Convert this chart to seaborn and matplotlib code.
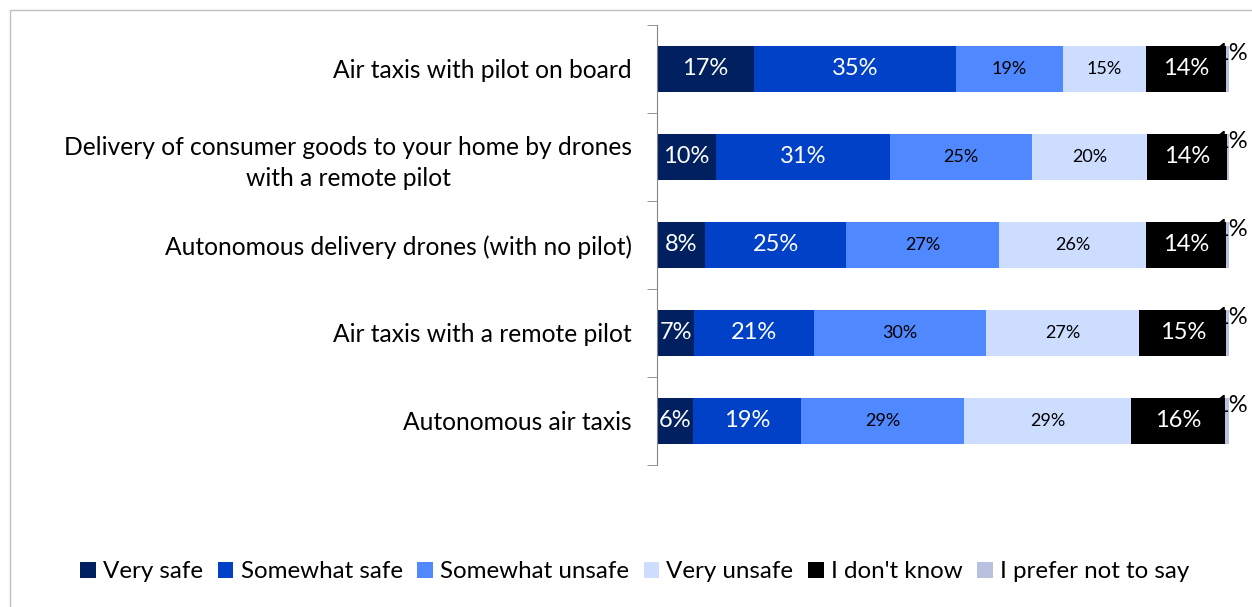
import numpy as np
import pandas as pd
import matplotlib.pyplot as plt
import seaborn as sns
from matplotlib.patches import Patch, Rectangle

# data (percent of respondents)
items = ['Air taxis with pilot on board',
         'Delivery of consumer goods to your home by drones\nwith a remote pilot',
         'Autonomous delivery drones (with no pilot)',
         'Air taxis with a remote pilot',
         'Autonomous air taxis']
answers = ['Very safe', 'Somewhat safe', 'Somewhat unsafe', 'Very unsafe',
           "I don't know", 'I prefer not to say']
very_safe = [16.9, 10.3, 8.4, 6.5, 6.3]
somewhat_safe = [35.4, 30.5, 24.7, 21.0, 18.9]
somewhat_unsafe = [18.6, 24.7, 26.7, 30.0, 28.5]
very_unsafe = [14.6, 20.1, 25.7, 26.8, 29.2]
dont_know = [14.0, 14.0, 14.0, 15.2, 16.4]
no_say = [0.5, 0.4, 0.5, 0.5, 0.7]
labels = [[17, 10, 8, 7, 6], [35, 31, 25, 21, 19], [19, 25, 27, 30, 29],
          [15, 20, 26, 27, 29], [14, 14, 14, 15, 16], [1, 1, 1, 1, 1]]

colors = ['#002060', '#0041C8', '#4F88FF', '#CCDDFF', '#000000', '#B8C2E0']
text_col = ['white', 'white', 'black', 'black', 'white', 'black']
text_size = [17, 17, 13, 13, 17, 17]

df = pd.DataFrame({'item': items})
series = [very_safe, somewhat_safe, somewhat_unsafe, very_unsafe, dont_know, no_say]
for a, s in zip(answers, series):
    df[a] = s
cum = df[answers].cumsum(axis=1)

plt.rcParams['font.family'] = ['Lato', 'DejaVu Sans']
fig = plt.figure(figsize=(12.52, 6.07), dpi=100)
ax = fig.add_axes([0.5248, 0.234, 0.457, 0.725])

# stacked bars: draw cumulative totals from the last answer backwards
for i in range(len(answers) - 1, -1, -1):
    sns.barplot(x=cum[answers[i]], y=df['item'], orient='h', color=colors[i],
                width=0.52, ax=ax, saturation=1, linewidth=0)

# segment labels
for i, a in enumerate(answers):
    for j in range(len(items)):
        end = cum[a].iloc[j]
        txt = str(labels[i][j]) + '%'
        if a == 'I prefer not to say':
            ax.text(end + 0.3, j - 0.17, txt, ha='center', va='center',
                    color='black', fontsize=text_size[i], clip_on=False)
        else:
            ax.text(end - df[a].iloc[j] / 2, j, txt, ha='center', va='center',
                    color=text_col[i], fontsize=text_size[i])

ax.set_xlim(0, 100)
ax.set_ylim(4.5, -0.5)
ax.set_xlabel('')
ax.set_ylabel('')
ax.set_xticks([])
for sp in ['top', 'right', 'bottom']:
    ax.spines[sp].set_visible(False)
ax.spines['left'].set_color('#868686')
ax.set_yticks(np.arange(-0.5, 5, 1), minor=True)
ax.tick_params(axis='y', which='major', length=0, pad=18, labelsize=17.7)
ax.tick_params(axis='y', which='minor', length=7, color='#868686')
for t in ax.get_yticklabels():
    t.set_multialignment('center')
    t.set_linespacing(1.45)

handles = [Patch(facecolor=c, label=a) for a, c in zip(answers, colors)]
fig.legend(handles=handles, loc='center', bbox_to_anchor=(0.507, 0.058), ncol=6,
           frameon=False, fontsize=17.4, handlelength=0.65, handleheight=0.65,
           handletextpad=0.3, columnspacing=0.6)

fig.patches.append(Rectangle((0.008, -0.01), 1.0, 0.993, transform=fig.transFigure,
                             fill=False, edgecolor='#BFBFBF', linewidth=1))

fig.savefig('out.png', dpi=100)
